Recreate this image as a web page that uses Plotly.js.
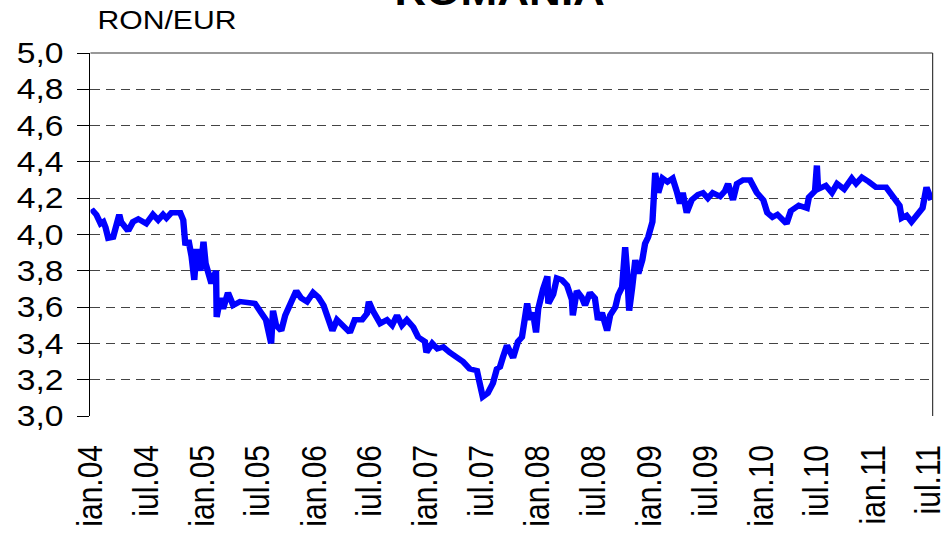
<!DOCTYPE html>
<html>
<head>
<meta charset="utf-8">
<script src="https://cdn.plot.ly/plotly-3.0.1.min.js"></script>
<style>
html,body{margin:0;padding:0;overflow:hidden;background:#fff;width:942px;height:534px;}
#chart{width:830px;height:534px;transform:scaleX(1.16);transform-origin:0 0;}
</style>
</head>
<body>
<div id="chart"></div>
<script>
// RON/EUR exchange rate
const dates = [
'2004-01-04','2004-01-20','2004-02-03','2004-02-12','2004-02-19','2004-02-28','2004-03-15','2004-03-25','2004-04-04','2004-04-10',
'2004-05-03','2004-05-19','2004-06-05','2004-07-01','2004-07-23','2004-08-09','2004-08-25','2004-09-05','2004-09-21','2004-10-07',
'2004-10-20','2004-10-30','2004-11-06','2004-11-16','2004-11-26','2004-12-05','2004-12-12','2004-12-25','2005-01-04','2005-01-11',
'2005-01-20','2005-01-30','2005-02-14','2005-02-16','2005-02-28','2005-03-09','2005-03-25','2005-04-11','2005-05-03','2005-06-21',
'2005-07-11','2005-07-27','2005-08-13','2005-08-19','2005-08-29','2005-09-15','2005-09-28','2005-10-14','2005-11-03','2005-11-19',
'2005-12-08','2005-12-28','2006-01-14','2006-01-31','2006-02-13','2006-03-01','2006-03-16','2006-04-05','2006-04-27','2006-05-13',
'2006-06-06','2006-06-22','2006-06-28','2006-07-11','2006-08-04','2006-08-26','2006-09-12','2006-09-28','2006-10-14','2006-10-30',
'2006-11-20','2006-12-06','2006-12-28','2007-01-02','2007-01-21','2007-02-07','2007-02-26','2007-03-19','2007-04-11','2007-05-01',
'2007-05-23','2007-06-16','2007-06-25','2007-07-05','2007-07-21','2007-08-07','2007-08-20','2007-08-30','2007-09-09','2007-09-22',
'2007-10-12','2007-10-28','2007-11-10','2007-11-27','2007-12-06','2007-12-16','2007-12-26','2008-01-02','2008-01-18','2008-02-01',
'2008-02-04','2008-02-20','2008-03-03','2008-03-19','2008-04-05','2008-04-21','2008-04-24','2008-05-07','2008-05-23','2008-06-03',
'2008-06-19','2008-07-05','2008-07-15','2008-07-28','2008-08-14','2008-08-24','2008-09-10','2008-09-19','2008-10-02','2008-10-12',
'2008-10-18','2008-10-25','2008-11-04','2008-11-14','2008-11-24','2008-12-07','2008-12-16','2008-12-26','2009-01-09','2009-01-12',
'2009-01-18','2009-01-28','2009-02-11','2009-02-27','2009-03-16','2009-03-29','2009-04-09','2009-04-18','2009-05-01','2009-05-17',
'2009-06-07','2009-06-23','2009-07-09','2009-07-25','2009-08-18','2009-09-03','2009-09-13','2009-09-29','2009-10-12','2009-11-01',
'2009-11-24','2009-12-16','2010-01-06','2010-01-19','2010-02-05','2010-02-21','2010-03-07','2010-03-23','2010-04-06','2010-05-02',
'2010-05-28','2010-06-04','2010-06-24','2010-06-30','2010-07-04','2010-07-29','2010-08-18','2010-09-04','2010-09-27','2010-10-22',
'2010-11-05','2010-11-24','2010-12-17','2011-01-09','2011-02-11','2011-03-01','2011-03-27','2011-04-03','2011-04-19','2011-05-05',
'2011-05-24','2011-06-10','2011-06-23','2011-07-09'
];
const rates = [
4.14,4.11,4.06,4.07,4.04,3.98,3.985,4.04,4.11,4.07,
4.02,4.07,4.085,4.06,4.11,4.08,4.11,4.09,4.12,4.12,
4.12,4.08,3.94,3.97,3.88,3.75,3.92,3.80,3.96,3.84,
3.77,3.73,3.80,3.545,3.65,3.59,3.68,3.61,3.63,3.62,
3.57,3.53,3.40,3.58,3.50,3.47,3.555,3.61,3.69,3.65,
3.63,3.68,3.655,3.61,3.54,3.47,3.53,3.50,3.46,3.53,
3.53,3.565,3.63,3.58,3.51,3.53,3.50,3.555,3.50,3.53,
3.49,3.435,3.41,3.35,3.40,3.37,3.38,3.35,3.325,3.30,
3.26,3.25,3.18,3.105,3.125,3.18,3.26,3.27,3.325,3.39,
3.32,3.41,3.435,3.62,3.53,3.57,3.46,3.59,3.70,3.77,
3.62,3.67,3.76,3.75,3.72,3.64,3.555,3.69,3.655,3.61,
3.68,3.65,3.53,3.57,3.47,3.555,3.60,3.665,3.71,3.93,
3.80,3.58,3.71,3.86,3.785,3.86,3.95,3.985,4.07,4.23,
4.34,4.23,4.31,4.29,4.31,4.24,4.17,4.23,4.12,4.19,
4.22,4.23,4.20,4.23,4.21,4.24,4.28,4.19,4.28,4.30,
4.30,4.23,4.19,4.12,4.095,4.11,4.09,4.06,4.13,4.16,
4.145,4.205,4.24,4.38,4.25,4.27,4.23,4.28,4.25,4.31,
4.28,4.315,4.29,4.26,4.26,4.215,4.16,4.09,4.105,4.07,
4.11,4.145,4.26,4.19
];
const tickDates = ['2004-01-01','2004-07-01','2005-01-01','2005-07-01','2006-01-01','2006-07-01','2007-01-01','2007-07-01',
'2008-01-01','2008-07-01','2009-01-01','2009-07-01','2010-01-01','2010-07-01','2011-01-01','2011-07-01'];
const tickLabels = ['ian.04','iul.04','ian.05','iul.05','ian.06','iul.06','ian.07','iul.07',
'ian.08','iul.08','ian.09','iul.09','ian.10','iul.10','ian.11','iul.11'];
const yTicks = [3.0,3.2,3.4,3.6,3.8,4.0,4.2,4.4,4.6,4.8,5.0];

const font = 'Liberation Sans, Arial, sans-serif';

Plotly.newPlot('chart', [{
  x: dates, y: rates, type: 'scatter', mode: 'lines',
  line: {color: '#0000FF', width: 5.5},
  hoverinfo: 'skip'
}], {
  width: 830, height: 534,
  margin: {l: 78, r: 26, t: 52.5, b: 118},
  paper_bgcolor: '#fff', plot_bgcolor: '#fff',
  separators: ',.',
  showlegend: false,
  xaxis: {
    type: 'date', range: ['2004-01-01', '2011-07-13'],
    tickmode: 'array', tickvals: tickDates, ticktext: tickLabels,
    tickangle: -90, ticks: '', showgrid: false, zeroline: false, showline: false,
    ticklabelstandoff: 22, ticklabeloverflow: 'allow',
    tickfont: {family: font, size: 30, color: '#000'}
  },
  yaxis: {
    range: [3, 5], tickmode: 'array', tickvals: yTicks, tickformat: '.1f',
    ticks: 'outside', ticklen: 10, tickcolor: '#000', tickwidth: 1,
    ticklabelstandoff: 6,
    showline: true, linecolor: '#000', linewidth: 1.5,
    showgrid: true, gridcolor: '#444', gridwidth: 1, griddash: '8px,5px',
    zeroline: false,
    tickfont: {family: font, size: 29, color: '#000'}
  },
  shapes: [
    {type: 'line', xref: 'paper', yref: 'paper', x0: 0, x1: 1, y0: 1, y1: 1, line: {color: '#333', width: 1.2}},
    {type: 'line', xref: 'paper', yref: 'paper', x0: 1, x1: 1, y0: 0, y1: 1, line: {color: '#333', width: 1}}
  ],
  annotations: [{
    text: '<b>ROMANIA</b>', xref: 'paper', yref: 'paper', x: 0.486, y: 1.105,
    xanchor: 'center', yanchor: 'bottom', showarrow: false,
    font: {family: font, size: 38, color: '#000'}
  }, {
    text: 'RON/EUR', xref: 'paper', yref: 'paper', x: 0.005, y: 1.044,
    xanchor: 'left', yanchor: 'bottom', showarrow: false,
    font: {family: font, size: 26, color: '#000'}
  }]
}, {staticPlot: true, displayModeBar: false});
</script>
</body>
</html>
